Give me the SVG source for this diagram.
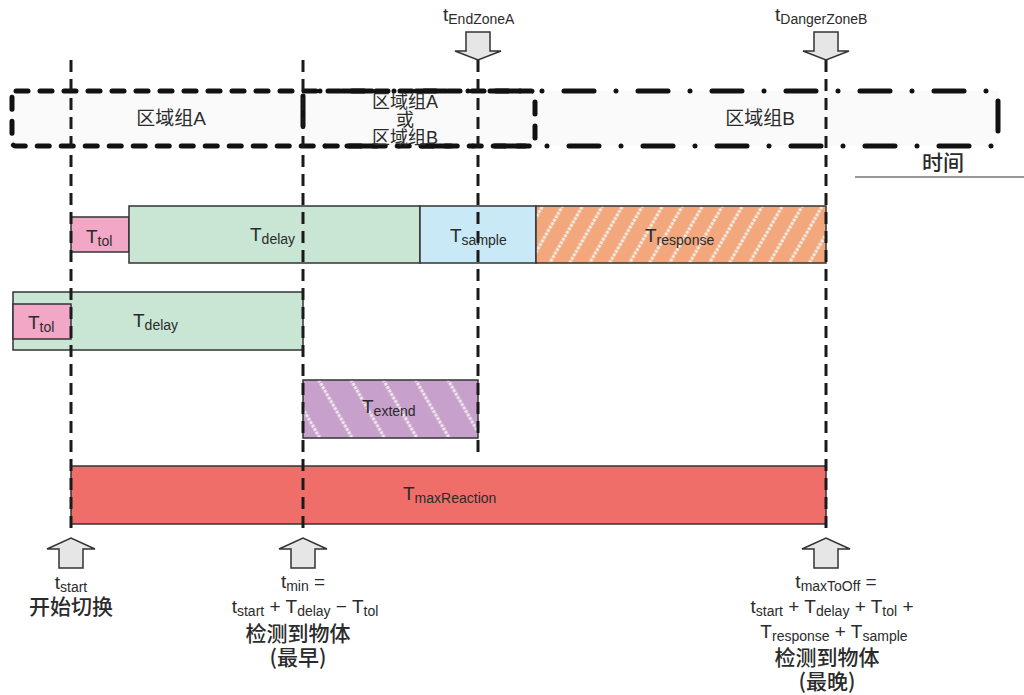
<svg xmlns="http://www.w3.org/2000/svg" width="1024" height="695" viewBox="0 0 1024 695">
<style>
text{font-family:"Liberation Sans","Noto Sans CJK SC",sans-serif;fill:#2b2b2b}
.t{font-size:19px}
.s{font-size:14px}
.cj{font-size:19px;font-family:"Liberation Sans","Noto Sans CJK SC",sans-serif}
.cm{font-size:18px;font-family:"Liberation Sans","Noto Sans CJK SC",sans-serif}
.cb{font-size:21px;font-weight:500;font-family:"Noto Sans CJK SC",sans-serif}
.bar{stroke:#333;stroke-width:1.5}
.vl{fill:none;stroke:#1a1a1a;stroke-width:3;stroke-dasharray:12 7}
.arr{fill:#e6e6e6;stroke:#333;stroke-width:1.5;stroke-linejoin:miter}
</style>
<defs>
<pattern id="hO" patternUnits="userSpaceOnUse" width="17.3" height="20" patternTransform="rotate(30)">
<rect width="17.3" height="20" fill="#f2a77c"/>
<line x1="2" y1="0" x2="2" y2="20" stroke="#efece4" stroke-width="3" stroke-dasharray="3 1"/>
</pattern>
<pattern id="hP" patternUnits="userSpaceOnUse" width="28" height="20" patternTransform="rotate(-30)">
<rect width="28" height="20" fill="#c8a0cc"/>
<line x1="2" y1="0" x2="2" y2="20" stroke="#eee8ee" stroke-width="3" stroke-dasharray="3 1"/>
</pattern>
</defs>
<rect width="1024" height="695" fill="#fff"/>

<g id="zones">
<rect x="12" y="91" width="986" height="55" fill="#fafafa"/>
<path d="M303,126 L303,91 L998,91 L998,146 L303,146" fill="none" stroke="#111" stroke-width="5" stroke-linecap="round" stroke-dasharray="30 22 0 22"/>
<rect x="12" y="91" width="523" height="55" rx="4" fill="none" stroke="#111" stroke-width="5" stroke-linecap="round" stroke-dasharray="12 12"/>
<text class="cj" x="171" y="125" text-anchor="middle">区域组A</text>
<text class="cm" x="405" y="108" text-anchor="middle">区域组A</text>
<text class="cm" x="405" y="126" text-anchor="middle">或</text>
<text class="cm" x="405" y="144" text-anchor="middle">区域组B</text>
<text class="cj" x="760" y="125" text-anchor="middle">区域组B</text>
</g>

<g id="time-axis">
<text class="cb" x="943" y="170" text-anchor="middle">时间</text>
<line x1="855" y1="177" x2="1024" y2="177" stroke="#333" stroke-width="1.2"/>
</g>

<g id="bar-row1">
<rect class="bar" x="71" y="217" width="58" height="35" fill="#f2a7c6"/>
<rect class="bar" x="129" y="206" width="291" height="57" fill="#c9e6d5"/>
<rect class="bar" x="420" y="206" width="116" height="57" fill="#c8e9f5"/>
<rect class="bar" x="536" y="206" width="290" height="57" fill="url(#hO)"/>
<text x="86" y="243"><tspan class="t">T</tspan><tspan class="s" dy="3">tol</tspan></text>
<text x="250" y="241"><tspan class="t">T</tspan><tspan class="s" dy="3">delay</tspan></text>
<text x="450" y="242"><tspan class="t">T</tspan><tspan class="s" dy="3">sample</tspan></text>
<text x="645" y="242"><tspan class="t">T</tspan><tspan class="s" dy="3">response</tspan></text>
</g>

<g id="bar-row2">
<rect class="bar" x="13" y="292" width="290" height="58" fill="#c9e6d5"/>
<rect class="bar" x="13" y="304" width="58" height="35" fill="#f2a7c6"/>
<text x="28" y="329"><tspan class="t">T</tspan><tspan class="s" dy="3">tol</tspan></text>
<text x="133" y="327"><tspan class="t">T</tspan><tspan class="s" dy="3">delay</tspan></text>
</g>

<g id="bar-extend">
<rect class="bar" x="303" y="380" width="175" height="58" fill="url(#hP)"/>
<text x="362" y="413"><tspan class="t">T</tspan><tspan class="s" dy="3">extend</tspan></text>
</g>

<g id="bar-maxreaction">
<rect class="bar" x="71" y="466" width="755" height="58" fill="#ef6e6a"/>
<text x="403" y="500"><tspan class="t">T</tspan><tspan class="s" dy="3">maxReaction</tspan></text>
</g>

<g id="connectors">
<line class="vl" x1="71" y1="60" x2="71" y2="532"/>
<line class="vl" x1="303" y1="60" x2="303" y2="532"/>
<line class="vl" x1="478" y1="60" x2="478" y2="453"/>
<line class="vl" x1="826" y1="60" x2="826" y2="532"/>
</g>

<g id="arrow-endzoneA">
<path class="arr" d="M466,32 H490 V51 H501 L478,60 L455,51 H466 Z"/>
<text x="443" y="21"><tspan class="t">t</tspan><tspan class="s" dy="3">EndZoneA</tspan></text>
</g>

<g id="arrow-dangerzoneB">
<path class="arr" d="M814,32 H838 V51 H849 L826,60 L803,51 H814 Z"/>
<text x="775" y="21"><tspan class="t">t</tspan><tspan class="s" dy="3">DangerZoneB</tspan></text>
</g>

<g id="arrow-start">
<path class="arr" d="M59,568 V549 H47 L71,538 L95,549 H83 V568 Z"/>
<text x="71" y="589" text-anchor="middle"><tspan class="t">t</tspan><tspan class="s" dy="3">start</tspan></text>
<text class="cb" x="71" y="614" text-anchor="middle">开始切换</text>
</g>

<g id="arrow-min">
<path class="arr" d="M291,568 V549 H279 L303,538 L327,549 H315 V568 Z"/>
<text x="303" y="588" text-anchor="middle"><tspan class="t">t</tspan><tspan class="s" dy="3">min</tspan><tspan class="t" dy="-3"> =</tspan></text>
<text x="305" y="613" text-anchor="middle"><tspan class="t">t</tspan><tspan class="s" dy="3">start</tspan><tspan class="t" dy="-3"> + T</tspan><tspan class="s" dy="3">delay</tspan><tspan class="t" dy="-3"> − T</tspan><tspan class="s" dy="3">tol</tspan></text>
<text class="cb" x="298" y="641" text-anchor="middle">检测到物体</text>
<text class="cb" x="298" y="665" text-anchor="middle">(最早)</text>
</g>

<g id="arrow-maxtooff">
<path class="arr" d="M814,568 V549 H802 L826,538 L850,549 H838 V568 Z"/>
<text x="836" y="588" text-anchor="middle"><tspan class="t">t</tspan><tspan class="s" dy="3">maxToOff</tspan><tspan class="t" dy="-3"> =</tspan></text>
<text x="832" y="613" text-anchor="middle"><tspan class="t">t</tspan><tspan class="s" dy="3">start</tspan><tspan class="t" dy="-3"> +  T</tspan><tspan class="s" dy="3">delay</tspan><tspan class="t" dy="-3"> +  T</tspan><tspan class="s" dy="3">tol</tspan><tspan class="t" dy="-3"> +</tspan></text>
<text x="834" y="638" text-anchor="middle"><tspan class="t">T</tspan><tspan class="s" dy="3">response</tspan><tspan class="t" dy="-3"> +  T</tspan><tspan class="s" dy="3">sample</tspan></text>
<text class="cb" x="827" y="665" text-anchor="middle">检测到物体</text>
<text class="cb" x="827" y="689" text-anchor="middle">(最晚)</text>
</g>
</svg>
